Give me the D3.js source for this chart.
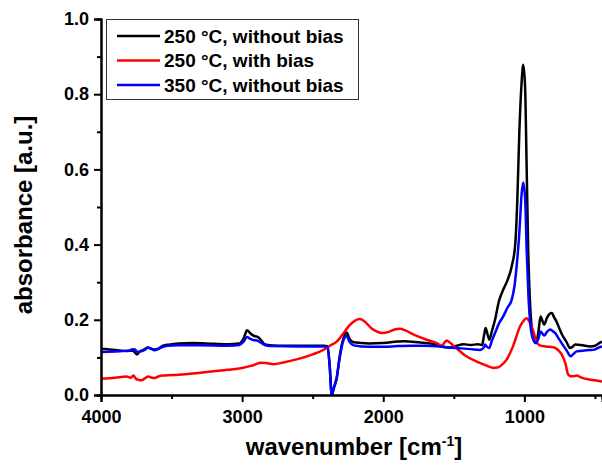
<!DOCTYPE html>
<html>
<head>
<meta charset="utf-8">
<script src="https://cdn.jsdelivr.net/npm/d3@7"></script>
<style>
  html, body { margin: 0; padding: 0; background: #fff; }
  svg { display: block; }
  text { font-family: "Liberation Sans", Arial, sans-serif; font-weight: bold; fill: #000; }
</style>
</head>
<body>
<svg id="chart" width="602" height="475"></svg>
<script>
// FTIR absorbance spectra, wavenumber in cm^-1 (descending)
const seriesNames = ["250 °C, without bias", "250 °C, with bias", "350 °C, without bias"];
const seriesColors = ["#000000", "#ff0000", "#0000ff"];

const wnBlack = [4000,3900,3820,3775,3760,3745,3725,3700,3670,3650,3620,3590,3560,3520,3450,3350,3200,3100,3020,2990,2965,2945,2920,2895,2875,2850,2820,2750,2600,2420,2395,2380,2365,2350,2330,2310,2290,2260,2240,2210,2100,2000,1900,1850,1750,1650,1560,1520,1480,1430,1380,1330,1300,1285,1275,1260,1248,1230,1208,1180,1150,1120,1090,1065,1050,1036,1020,1008,995,984,973,961,949,933,915,900,885,870,860,840,820,805,790,772,750,736,700,677,660,640,600,530,500,470,450];
const absBlack = [0.123,0.120,0.117,0.118,0.113,0.108,0.116,0.120,0.126,0.124,0.121,0.124,0.131,0.134,0.137,0.138,0.136,0.135,0.137,0.150,0.172,0.165,0.158,0.155,0.150,0.138,0.133,0.131,0.131,0.131,0.130,0.080,0.000,0.020,0.045,0.100,0.140,0.166,0.150,0.140,0.137,0.138,0.142,0.143,0.140,0.136,0.127,0.126,0.131,0.135,0.133,0.135,0.133,0.160,0.178,0.160,0.147,0.170,0.200,0.250,0.280,0.305,0.342,0.400,0.519,0.696,0.829,0.878,0.820,0.608,0.386,0.253,0.182,0.147,0.140,0.170,0.209,0.195,0.187,0.205,0.216,0.218,0.207,0.195,0.175,0.163,0.140,0.125,0.128,0.134,0.133,0.129,0.131,0.138,0.142];

const wnRed = [4000,3900,3820,3790,3770,3755,3730,3712,3690,3665,3640,3620,3590,3550,3450,3350,3200,3100,3000,2930,2870,2830,2780,2700,2600,2500,2400,2370,2330,2290,2240,2200,2165,2130,2080,2040,2011,1960,1920,1882,1840,1780,1692,1620,1586,1565,1551,1530,1500,1480,1420,1338,1280,1240,1220,1190,1160,1126,1080,1031,1000,984,965,937,913,890,850,795,760,736,710,689,670,650,630,600,540,500,450];
const absRed = [0.043,0.046,0.049,0.046,0.052,0.044,0.040,0.039,0.044,0.049,0.046,0.045,0.050,0.052,0.054,0.057,0.063,0.067,0.072,0.078,0.086,0.085,0.082,0.087,0.096,0.108,0.125,0.133,0.142,0.160,0.185,0.198,0.202,0.195,0.176,0.168,0.165,0.168,0.174,0.176,0.171,0.160,0.147,0.138,0.131,0.140,0.145,0.140,0.130,0.124,0.105,0.089,0.080,0.074,0.072,0.073,0.080,0.094,0.130,0.182,0.200,0.204,0.195,0.170,0.140,0.132,0.129,0.127,0.119,0.108,0.085,0.054,0.050,0.050,0.052,0.047,0.041,0.039,0.036];

const wnBlue = [4000,3900,3800,3775,3760,3740,3720,3690,3665,3650,3620,3595,3570,3530,3450,3300,3100,3020,2990,2965,2945,2920,2895,2870,2840,2800,2600,2420,2395,2380,2365,2350,2330,2310,2290,2260,2240,2210,2100,2000,1900,1800,1700,1600,1530,1450,1380,1315,1290,1279,1265,1249,1230,1208,1180,1150,1120,1090,1070,1055,1036,1019,1008,994,984,970,956,937,918,900,885,870,859,840,818,800,783,760,736,700,672,655,630,560,512,480,450];
const absBlue = [0.114,0.116,0.118,0.122,0.121,0.114,0.116,0.120,0.126,0.124,0.119,0.122,0.127,0.131,0.132,0.132,0.131,0.133,0.142,0.154,0.150,0.146,0.145,0.140,0.133,0.130,0.129,0.129,0.128,0.080,0.000,0.018,0.045,0.095,0.135,0.157,0.142,0.132,0.128,0.128,0.130,0.131,0.131,0.129,0.126,0.124,0.122,0.120,0.125,0.134,0.128,0.125,0.145,0.165,0.190,0.209,0.232,0.253,0.290,0.342,0.430,0.537,0.565,0.519,0.386,0.253,0.182,0.147,0.138,0.150,0.169,0.162,0.158,0.168,0.174,0.170,0.165,0.152,0.138,0.118,0.103,0.108,0.116,0.119,0.120,0.125,0.129];

const xMajorTicks = [4000, 3000, 2000, 1000];
const xMinorTicks = [3500, 2500, 1500, 500];
const yMajorTicks = [0.0, 0.2, 0.4, 0.6, 0.8, 1.0];
const yMinorTicks = [0.1, 0.3, 0.5, 0.7, 0.9];

const svg = d3.select("#chart");
const plot = { left: 101, right: 602, top: 19, bottom: 395 };

const x = d3.scaleLinear().domain([4000, 450]).range([plot.left, plot.right]);
const y = d3.scaleLinear().domain([0, 1]).range([plot.bottom, plot.top]);

svg.append("rect").attr("width", 602).attr("height", 475).attr("fill", "#fff");

svg.append("defs").append("clipPath").attr("id", "plot-clip")
  .append("rect")
  .attr("x", plot.left).attr("y", plot.top - 5)
  .attr("width", plot.right - plot.left).attr("height", plot.bottom - plot.top + 5);

// Spectra
const series = [
  { wn: wnBlack, abs: absBlack, color: seriesColors[0] },
  { wn: wnRed, abs: absRed, color: seriesColors[1] },
  { wn: wnBlue, abs: absBlue, color: seriesColors[2] }
];
const line = d3.line()
  .x(d => x(d[0]))
  .y(d => y(d[1]))
  .curve(d3.curveMonotoneX);

const lines = svg.append("g").attr("clip-path", "url(#plot-clip)");
series.forEach(s => {
  lines.append("path")
    .datum(s.wn.map((w, i) => [w, s.abs[i]]))
    .attr("fill", "none")
    .attr("stroke", s.color)
    .attr("stroke-width", 2.5)
    .attr("stroke-linejoin", "round")
    .attr("d", line);
});

// Axes
function styleAxis(g) {
  g.select(".domain").attr("stroke", "#000").attr("stroke-width", 2);
  g.selectAll(".tick line").attr("stroke", "#000").attr("stroke-width", 2);
  g.selectAll("text").style("font-size", "18px").style("font-weight", "bold")
    .style("font-family", '"Liberation Sans", Arial, sans-serif').attr("fill", "#000");
}

svg.append("g")
  .attr("transform", `translate(0,${plot.bottom})`)
  .call(d3.axisBottom(x).tickValues(xMinorTicks).tickSize(4).tickFormat(""))
  .call(styleAxis);
svg.append("g")
  .attr("transform", `translate(${plot.left},0)`)
  .call(d3.axisLeft(y).tickValues(yMinorTicks).tickSize(4).tickFormat(""))
  .call(styleAxis);

svg.append("g")
  .attr("transform", `translate(0,${plot.bottom})`)
  .call(d3.axisBottom(x).tickValues(xMajorTicks).tickSize(7).tickPadding(8).tickFormat(d3.format("d")))
  .call(styleAxis);
svg.append("g")
  .attr("transform", `translate(${plot.left},0)`)
  .call(d3.axisLeft(y).tickValues(yMajorTicks).tickSize(7).tickPadding(5).tickFormat(d3.format(".1f")))
  .call(styleAxis);

// Axis titles
const xTitle = svg.append("text")
  .attr("x", 354).attr("y", 455)
  .attr("text-anchor", "middle")
  .style("font-size", "24px");
xTitle.append("tspan").text("wavenumber [cm");
xTitle.append("tspan").attr("dy", -9).style("font-size", "14px").text("-1");
xTitle.append("tspan").attr("dy", 9).text("]");

svg.append("text")
  .attr("transform", "translate(32,215) rotate(-90)")
  .attr("text-anchor", "middle")
  .style("font-size", "24px")
  .text("absorbance [a.u.]");

// Legend
const legend = svg.append("g");
legend.append("rect")
  .attr("x", 106.5).attr("y", 19.5)
  .attr("width", 252).attr("height", 80)
  .attr("fill", "#fff").attr("stroke", "#333").attr("stroke-width", 1);
seriesNames.forEach((name, i) => {
  const cy = 36 + i * 24.5;
  legend.append("line")
    .attr("x1", 117).attr("x2", 160)
    .attr("y1", cy).attr("y2", cy)
    .attr("stroke", seriesColors[i]).attr("stroke-width", 2.5);
  legend.append("text")
    .attr("x", 164).attr("y", cy)
    .attr("dy", "0.36em")
    .style("font-size", "19px")
    .text(name);
});
</script>
</body>
</html>
